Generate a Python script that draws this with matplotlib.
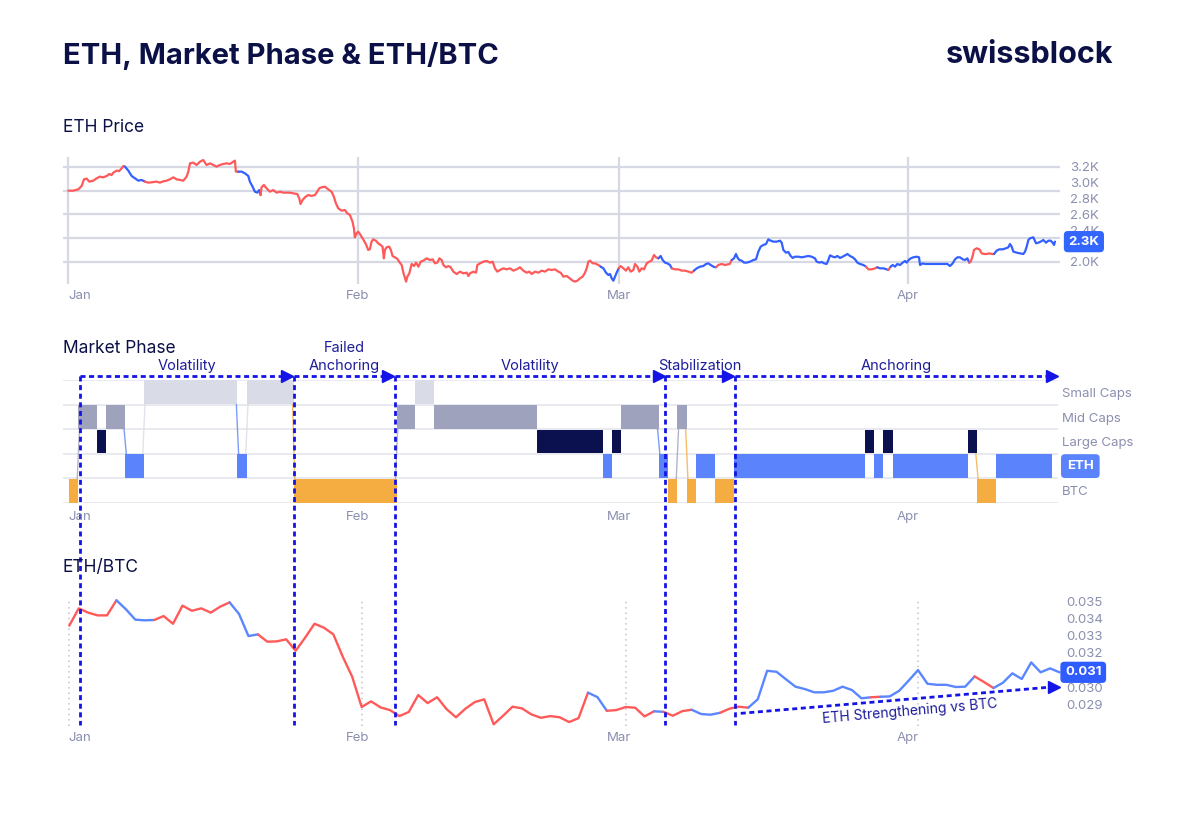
import matplotlib
matplotlib.use("Agg")
import numpy as np
import matplotlib.pyplot as plt
import matplotlib.transforms as mtransforms
from matplotlib.lines import Line2D

plt.rcParams['font.family'] = ['Inter', 'DejaVu Sans']

# ---------------- data ----------------
month_days = [0, 31, 59, 90]
month_labels = ["Jan", "Feb", "Mar", "Apr"]

# ETH price (day since Jan 1, USD)
price_days = [
    0.00, 0.54, 1.07, 1.43, 1.68, 1.96, 2.25, 2.68, 3.04, 3.39, 3.75, 4.11, 4.39, 4.64, 4.82, 5.18, 5.46, 5.71, 5.89, 6.07,
    6.43, 6.79, 7.14, 7.50, 7.86, 8.21, 8.57, 8.93, 9.46, 9.82, 10.18, 10.54, 10.89, 11.25, 11.61, 11.96, 12.32, 12.68, 12.86, 13.04,
    13.39, 13.75, 14.11, 14.46, 14.82, 15.18, 15.54, 15.89, 16.25, 16.61, 16.96, 17.32, 17.68, 17.86, 17.96, 18.21, 18.57, 18.93, 19.29, 19.46,
    19.75, 20.00, 20.25, 20.46, 20.61, 20.71, 20.96, 21.25, 21.61, 21.96, 22.32, 22.68, 23.04, 23.39, 23.75, 24.11, 24.54, 24.75, 24.89, 25.11,
    25.36, 25.71, 26.07, 26.43, 26.68, 26.89, 27.14, 27.50, 27.86, 28.21, 28.46, 28.68, 28.93, 29.29, 29.64, 29.89, 30.18, 30.46, 30.61, 30.71,
    30.89, 31.07, 31.25, 31.61, 31.89, 32.14, 32.32, 32.50, 32.68, 32.96, 33.21, 33.46, 33.68, 33.82, 33.93, 34.11, 34.39, 34.57, 34.75, 35.00,
    35.25, 35.50,
    35.73, 35.91, 36.09, 36.20, 36.34, 36.55, 36.80, 37.05, 37.27, 37.52, 37.77, 38.05, 38.41, 38.77, 39.05, 39.30, 39.55, 39.77, 40.02, 40.20,
    40.48, 40.73, 40.98, 41.27, 41.63, 41.98, 42.34, 42.70, 42.88, 43.05, 43.41, 43.70, 43.84, 44.13, 44.48, 44.84, 45.20, 45.48, 45.73, 45.98,
    46.27, 46.63, 46.98, 47.34, 47.70, 48.06, 48.41, 48.77, 49.13, 49.41, 49.66, 50.02, 50.38, 50.74, 51.09, 51.45, 51.81, 52.16, 52.52, 52.77,
    53.06, 53.42, 53.77, 54.06, 54.31, 54.56, 54.84, 55.13, 55.38, 55.56, 55.74, 55.92, 56.20, 56.45, 56.81, 57.06, 57.35, 57.63, 57.88, 58.06,
    58.24, 58.42, 58.60, 58.77, 58.99, 59.20, 59.49, 59.77, 60.02, 60.27, 60.56, 60.74, 60.99, 61.20, 61.45, 61.70, 61.99, 62.27, 62.52, 62.78,
    62.99, 63.24, 63.49, 63.70, 63.95, 64.20, 64.49, 64.67, 65.03, 65.38, 65.74, 66.10, 66.46, 66.81, 67.06, 67.35, 67.71, 68.06, 68.35, 68.60,
    68.85, 69.14, 69.42, 69.67, 70.03, 70.38, 70.89,
    71.10, 71.35, 71.56, 71.71, 71.92, 72.17, 72.42, 72.71, 73.07, 73.42, 73.71, 73.96, 74.21, 74.49, 74.78, 75.03, 75.28, 75.57, 75.92, 76.28,
    76.46, 76.64, 76.92, 77.17, 77.42, 77.64, 77.89, 78.25, 78.60, 78.96, 79.32, 79.67, 80.03, 80.21, 80.50, 80.75, 81.00, 81.28, 81.46, 81.64,
    81.93, 82.18, 82.43, 82.71, 83.00, 83.25, 83.50, 83.78, 84.07, 84.32, 84.57, 84.86, 85.21, 85.50, 85.75, 86.11, 86.46, 86.71, 87.00, 87.36,
    87.71, 87.89, 88.14, 88.36, 88.61, 88.86, 89.14, 89.43, 89.68, 89.86, 90.07, 90.29, 90.57, 90.93, 91.18, 91.29, 91.57, 91.82, 92.18, 92.72,
    93.25, 93.79, 94.22, 94.50, 94.79, 95.04, 95.29, 95.57, 95.86, 96.11, 96.36, 96.57, 96.72, 96.93, 97.07, 97.36, 97.65, 97.90, 98.15, 98.43,
    98.72, 98.97, 99.22, 99.50, 99.79, 100.15, 100.50, 100.75, 100.93, 101.11, 101.29, 101.65, 102.00, 102.36, 102.54, 102.72, 102.90, 103.08, 103.43, 103.72,
    103.97, 104.22, 104.50, 104.79, 105.04, 105.29, 105.50, 105.65, 105.75,
]
price_vals = [
    2901, 2901, 2918, 2960, 3044, 3053, 3015, 3027, 3057, 3078, 3069, 3086, 3111, 3099, 3128, 3154, 3149, 3183, 3212, 3204,
    3154, 3086, 3057, 3027, 3036, 3015, 3002, 3006, 3015, 3002, 3019, 3027, 3044, 3069, 3044, 3036, 3027, 3078, 3141, 3246,
    3255, 3225, 3267, 3288, 3225, 3246, 3225, 3204, 3225, 3238, 3246, 3238, 3267, 3280, 3141, 3141, 3141, 3120, 3086, 3015,
    2951, 2888, 2876, 2909, 2846, 2943, 2973, 2930, 2888, 2909, 2876, 2888, 2876, 2876, 2876, 2867, 2859, 2804, 2733, 2783,
    2817, 2846, 2834, 2846, 2888, 2930, 2943, 2951, 2918, 2888, 2825, 2741, 2678, 2648, 2657, 2615, 2594, 2509, 2425, 2312,
    2362, 2383, 2354, 2286, 2227, 2152, 2160, 2257, 2286, 2269, 2236, 2215, 2194, 2046, 2152, 2185, 2194, 2152, 2076, 2059,
    2042, 1996,
    1962, 1865, 1794, 1752, 1815, 1857, 1975, 1949, 1992, 1941, 2004, 2017, 2046, 2025, 2034, 1983, 1992, 2046, 2025, 1962,
    1933, 1949, 1933, 1878, 1848, 1878, 1857, 1865, 1823, 1857, 1878, 1865, 1962, 1983, 2004, 2013, 1992, 2004, 1920, 1878,
    1899, 1920, 1907, 1920, 1891, 1907, 1933, 1891, 1865, 1878, 1848, 1878, 1865, 1891, 1878, 1907, 1899, 1907, 1878, 1865,
    1815, 1823, 1790, 1764, 1752, 1764, 1794, 1815, 1865, 1920, 2004, 2017, 1983, 1983, 1962, 1941, 1920, 1865, 1836, 1848,
    1794, 1764, 1815, 1865, 1920, 1949, 1920, 1891, 1933, 1878, 1899, 1975, 1941, 1878, 1920, 1907, 1983, 2004, 2017, 2088,
    2059, 2046, 2076, 2025, 1992, 1983, 1962, 1920, 1907, 1907, 1891, 1891, 1878, 1865, 1891, 1920, 1941, 1949, 1975, 1983,
    1962, 1941, 1933, 1962, 1975, 1962, 1975,
    2025, 2046, 2101, 2059, 2025, 2017, 1992, 1992, 2004, 2025, 2034, 2131, 2194, 2215, 2227, 2286, 2269, 2257, 2257, 2269,
    2244, 2152, 2118, 2126, 2076, 2051, 2067, 2067, 2059, 2067, 2076, 2067, 2046, 2004, 1992, 2000, 1983, 1975, 2025, 2084,
    2067, 2059, 2076, 2051, 2067, 2084, 2101, 2076, 2059, 2034, 1992, 1975, 1962, 1941, 1907, 1907, 1920, 1933, 1920, 1920,
    1907, 1899, 1941, 1962, 1941, 1975, 1962, 1992, 2013, 1992, 2025, 2046, 2059, 2067, 2059, 1962, 1983, 1975, 1975, 1975,
    1975, 1975, 1975, 1949, 1983, 2034, 2059, 2059, 2034, 2025, 2046, 1992, 2004, 2076, 2152, 2173, 2160, 2109, 2101, 2101,
    2109, 2101, 2101, 2143, 2160, 2160, 2173, 2185, 2227, 2194, 2131, 2118, 2109, 2101, 2131, 2194, 2278, 2299, 2312, 2236,
    2244, 2257, 2278, 2244, 2269, 2269, 2244, 2215, 2257,
]
price_blue_spans = [(6.07, 8.21), (18.1, 20.61), (57.06, 58.99), (63.3, 64.67), (67.1, 69.45),
                    (71.0, 85.5), (86.6, 87.85), (88.1, 96.6), (99.3, 106.0)]
price_gridlines = [2000, 2300, 2600, 2900, 3200]
price_ticks = [2000, 2400, 2600, 2800, 3000, 3200]
price_ticklabels = ["2.0K", "2.4K", "2.6K", "2.8K", "3.0K", "3.2K"]
price_badge = "2.3K"

# Market phase: (row, number of days)
phase_rows = ["BTC", "ETH", "Large Caps", "Mid Caps", "Small Caps"]
phase_runs = [
    ("BTC", 1), ("Mid Caps", 2), ("Large Caps", 1), ("Mid Caps", 2), ("ETH", 2), ("Small Caps", 10),
    ("ETH", 1), ("Small Caps", 5), ("BTC", 11), ("Mid Caps", 2), ("Small Caps", 2), ("Mid Caps", 11),
    ("Large Caps", 7), ("ETH", 1), ("Large Caps", 1), ("Mid Caps", 4), ("ETH", 1), ("BTC", 1),
    ("Mid Caps", 1), ("BTC", 1), ("ETH", 2), ("BTC", 2), ("ETH", 14), ("Large Caps", 1), ("ETH", 1),
    ("Large Caps", 1), ("ETH", 8), ("Large Caps", 1), ("BTC", 2), ("ETH", 6),
]

# ETH/BTC daily
ethbtc = [
    0.03359, 0.03460, 0.03435, 0.03419, 0.03419, 0.03507, 0.03455, 0.03394, 0.03390, 0.03392,
    0.03415, 0.03370, 0.03476, 0.03446, 0.03460, 0.03435, 0.03470, 0.03495, 0.03427, 0.03298,
    0.03308, 0.03265, 0.03267, 0.03279, 0.03212, 0.03288, 0.03370, 0.03347, 0.03308, 0.03177,
    0.03060, 0.02883, 0.02916, 0.02881, 0.02865, 0.02830, 0.02854, 0.02953, 0.02906, 0.02940,
    0.02871, 0.02823, 0.02873, 0.02912, 0.02928, 0.02782, 0.02832, 0.02885, 0.02875, 0.02840,
    0.02820, 0.02830, 0.02823, 0.02795, 0.02818, 0.02967, 0.02941, 0.02861, 0.02865, 0.02883,
    0.02879, 0.02828, 0.02858, 0.02855, 0.02832, 0.02859, 0.02867, 0.02842, 0.02838, 0.02849,
    0.02873, 0.02885, 0.02879, 0.02928, 0.03095, 0.03089, 0.03045, 0.03002, 0.02988, 0.02969,
    0.02969, 0.02978, 0.03002, 0.02982, 0.02934, 0.02940, 0.02943, 0.02945, 0.02978, 0.03037,
    0.03099, 0.03019, 0.03013, 0.03013, 0.03000, 0.03002, 0.03062, 0.03029, 0.02994, 0.03025,
    0.03080, 0.03047, 0.03144, 0.03086, 0.03109, 0.03086,
]
ethbtc_blue_spans = [(5, 9), (17, 20), (55, 57), (62, 63), (66, 69), (72, 85), (86, 96), (98, 105)]
ethbtc_ticks = [0.029, 0.030, 0.031, 0.032, 0.033, 0.034, 0.035]
ethbtc_badge = "0.031"

# Phase annotations (day positions)
phase_names = ["Volatility", "Failed\nAnchoring", "Volatility", "Stabilization", "Anchoring"]
phase_starts = [1.15, 24.0, 34.8, 63.7, 71.1]
phase_end = 105.7

# ---------------- style ----------------
NAVY = "#0b1146"
GREY = "#8a8fae"
GRID = "#d6d8e4"
RED = "#ff5a5a"
BLUE_P = "#3360ff"
BLUE_R = "#5a86ff"
ANNO = "#1414e6"
ANNO_TXT = "#1d1d9b"
row_colors = {"Small Caps": "#d9dce6", "Mid Caps": "#9ea2bd", "Large Caps": "#0b114f",
              "ETH": "#5b84fc", "BTC": "#f5ad42"}

W, H = 1200, 818
fig = plt.figure(figsize=(12, 8.18), dpi=100)


def px_axes(x0, y0, x1, y1):
    return fig.add_axes([x0 / W, 1 - y1 / H, (x1 - x0) / W, (y1 - y0) / H])


def fy(y):
    return 1 - y / H


def colored_line(ax, x, y, spans, c_in, c_out, lw):
    x = np.asarray(x, float)
    y = np.asarray(y, float)
    mids = (x[:-1] + x[1:]) / 2
    inside = np.zeros(len(mids), bool)
    for a, b in spans:
        inside |= (mids >= a) & (mids <= b)
    start = 0
    for i in range(1, len(mids) + 1):
        if i == len(mids) or inside[i] != inside[start]:
            ax.plot(x[start:i + 1], y[start:i + 1], color=c_in if inside[start] else c_out,
                    lw=lw, solid_capstyle='round', solid_joinstyle='round', zorder=3)
            start = i


def clean(ax):
    for s in ax.spines.values():
        s.set_visible(False)
    ax.set_xticks([])
    ax.tick_params(length=0)


# ---------------- titles ----------------
fig.text(63 / W, fy(56), "ETH, Market Phase & ETH/BTC", fontsize=21, fontweight='bold',
         color=NAVY, va='center', ha='left')
fig.text(1113 / W, fy(55), "swissblock", fontsize=22, fontweight='bold',
         color=NAVY, va='center', ha='right')
fig.text(63 / W, fy(127), "ETH Price", fontsize=12.5, color=NAVY, va='center')
fig.text(63 / W, fy(348), "Market Phase", fontsize=12.5, color=NAVY, va='center')
fig.text(63 / W, fy(568), "ETH/BTC", fontsize=12.5, color=NAVY, va='center')

# ---------------- ETH price ----------------
ax_p = px_axes(63, 157, 1060, 284)
clean(ax_p)
ax_p.set_xlim(-0.57, 106.29)
ax_p.set_ylim(1722, 3326)
for g in price_gridlines:
    ax_p.axhline(g, color=GRID, lw=1.6, zorder=0)
for d in month_days:
    ax_p.axvline(d, color=GRID, lw=1.6, zorder=0)
colored_line(ax_p, price_days, price_vals, price_blue_spans, BLUE_P, RED, 1.6)
ax_p.yaxis.tick_right()
ax_p.set_yticks(price_ticks)
ax_p.set_yticklabels(price_ticklabels, color=GREY, fontsize=9.5)
ax_p.tick_params(axis='y', pad=7)
tr = mtransforms.blended_transform_factory(ax_p.transAxes, ax_p.transData)
ax_p.text(1.0085, price_vals[-1], price_badge, transform=tr, color='white', fontsize=9.5,
          fontweight='bold', va='center', ha='left',
          bbox=dict(boxstyle='round,pad=0.35,rounding_size=0.3', fc='#3366ff', ec='none'))

# ---------------- Market phase ----------------
ax_m = px_axes(63, 380, 1058, 503)
clean(ax_m)
ax_m.set_yticks([])
ax_m.set_xlim(-0.641, 105.66)
ax_m.set_ylim(0, 5)
for k in range(6):
    ax_m.axhline(k, color='#e4e6ee', lw=1.2, zorder=0)
row_idx = {r: i for i, r in enumerate(phase_rows)}
day = 0
prev = None
for name, n in phase_runs:
    r = row_idx[name]
    ax_m.barh(r + 0.5, n, left=day, height=0.96, color=row_colors[name], lw=0, zorder=2)
    if prev is not None and abs(row_idx[prev] - r) > 1:
        pr = row_idx[prev]
        y0, y1 = (pr, r + 1) if pr > r else (pr + 1, r)
        ax_m.plot([day - 0.12, day + 0.12], [y0, y1], color=row_colors[name], lw=1, alpha=0.8, zorder=1)
    prev = name
    day += n
trm = mtransforms.blended_transform_factory(ax_m.transAxes, ax_m.transData)
for name in phase_rows:
    r = row_idx[name]
    if name == "ETH":
        ax_m.text(1.009, r + 0.5, name, transform=trm, color='white', fontsize=9.5, fontweight='bold',
                  va='center', ha='left',
                  bbox=dict(boxstyle='round,pad=0.45,rounding_size=0.3', fc=row_colors["ETH"], ec='none'))
    else:
        ax_m.text(1.004, r + 0.43, name, transform=trm, color=GREY, fontsize=9.5, va='center', ha='left')

# ---------------- ETH/BTC ----------------
ax_r = px_axes(63, 597, 1061, 726)
clean(ax_r)
ax_r.set_xlim(-0.668, 105.16)
ax_r.set_ylim(0.02772, 0.035265)
xr = np.arange(len(ethbtc))
ax_r.vlines(month_days, 0.02772, 0.0351, colors='#c9cbd8', linestyles=(0, (1, 2.2)), lw=1.2, zorder=0)
colored_line(ax_r, xr, ethbtc, ethbtc_blue_spans, BLUE_R, RED, 1.7)
ax_r.yaxis.tick_right()
ax_r.set_yticks(ethbtc_ticks)
ax_r.set_yticklabels([f"{t:.3f}" for t in ethbtc_ticks], color=GREY, fontsize=9.5)
ax_r.tick_params(axis='y', pad=4)
trr = mtransforms.blended_transform_factory(ax_r.transAxes, ax_r.transData)
ax_r.text(1.004, ethbtc[-1], ethbtc_badge, transform=trr, color='white', fontsize=9.5,
          fontweight='bold', va='center', ha='left', zorder=5,
          bbox=dict(boxstyle='round,pad=0.35,rounding_size=0.3', fc='#2f5cff', ec='none'))

# ETH strengthening arrow
ax_r.plot([71.2, 104.4], [0.02846, 0.03001], color=ANNO, lw=2, ls=(0, (1.8, 1.3)), clip_on=False, zorder=4)
ax_r.plot([104.4], [0.03001], marker='>', ms=9, color=ANNO, clip_on=False, zorder=4, mec=ANNO)
ax_r.text(89.1, 0.02855, "ETH Strengthening vs BTC", color=ANNO_TXT, fontsize=10, rotation=5,
          rotation_mode='anchor', ha='center', va='center', zorder=4)

# ---------------- month labels (shared positions) ----------------
trx = mtransforms.blended_transform_factory(ax_p.transData, fig.transFigure)
for ylab in (296, 517, 738):
    for d, lab in zip(month_days, month_labels):
        fig.text(d, fy(ylab), lab, transform=trx, color=GREY, fontsize=9.5,
                 ha='left' if d == 0 else 'center', va='center')

# ---------------- phase annotations ----------------
trv = mtransforms.blended_transform_factory(ax_m.transData, fig.transFigure)
ends = phase_starts[1:] + [phase_end]
y_arrow = fy(376)
for s, e, name in zip(phase_starts, ends, phase_names):
    fig.add_artist(Line2D([s, s], [fy(376), fy(725)], transform=trv, color=ANNO, lw=2,
                          ls=(0, (1.8, 1.3))))
    fig.add_artist(Line2D([s, e - 0.7], [y_arrow, y_arrow], transform=trv, color=ANNO, lw=2,
                          ls=(0, (1.8, 1.3))))
    fig.add_artist(Line2D([e - 0.68], [y_arrow], transform=trv, marker='>', ms=9, color=ANNO, mec=ANNO))
    fig.text((s + e) / 2, fy(373), name, transform=trv, color=ANNO_TXT, fontsize=10.5,
             ha='center', va='bottom', linespacing=1.35)

fig.savefig("out.png", dpi=100)
